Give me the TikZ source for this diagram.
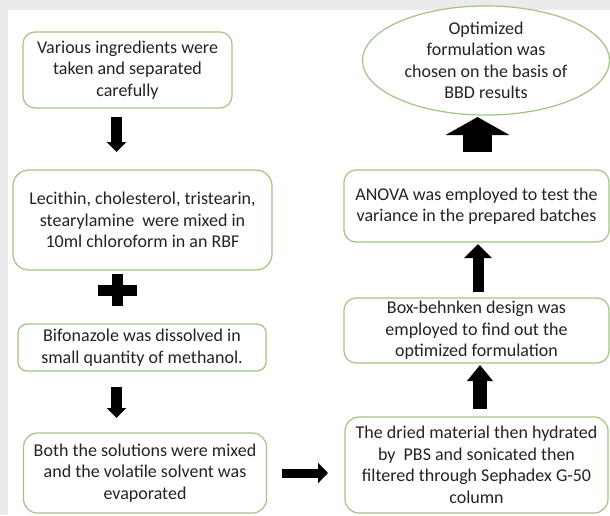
\documentclass[tikz,border=0pt]{standalone}
\usepackage{fontspec}
\setmainfont{Carlito}
\usetikzlibrary{shapes.geometric,arrows.meta}
\definecolor{boxgreen}{RGB}{160,198,130}
\definecolor{bggray}{RGB}{235,235,235}
\definecolor{txt}{RGB}{35,35,35}
\tikzset{
  box/.style={draw=boxgreen, line width=1.2pt, fill=white, rounded corners=#1, align=center, inner sep=0pt, text=txt, font=\fontsize{18}{21.5}\selectfont},
  box/.default=12pt,
  blockarrow/.style n args={3}{line width=#1, -{Triangle[length=#2,width=#3]}, draw=black},
}
\begin{document}
\begin{tikzpicture}[x=1pt,y=-1pt]
\useasboundingbox (0,0) rectangle (610,515);
\fill[bggray] (0,0) rectangle (610,515);
\fill[white] (8,10) rectangle (610,515);

\node[box=12pt, minimum width=209pt, minimum height=76pt] (b1) at (127.5,70)
  {Various ingredients were\\taken and separated\\carefully};
\node[box=16pt, minimum width=259pt, minimum height=100pt] (b2) at (142.5,220)
  {Lecithin, cholesterol, tristearin,\\stearylamine\ \ were mixed in\\10ml chloroform in an RBF};
\node[box=9pt, minimum width=248pt, minimum height=47pt] (b3) at (142,347.5)
  {Bifonazole was dissolved in\\small quantity of methanol.};
\node[box=14pt, minimum width=243pt, minimum height=80pt] (b4) at (145,473)
  {Both the solutions were mixed\\and the volatile solvent was\\evaporated};
\node[box=14pt, minimum width=263pt, minimum height=96pt] (b5) at (476.5,465)
  {The dried material then hydrated\\by\ \ PBS and sonicated then\\filtered through Sephadex G-50\\column};
\node[box=12pt, minimum width=265pt, minimum height=65pt] (b6) at (476.5,330.5)
  {Box-behnken design was\\employed to find out the\\optimized formulation};
\node[box=12pt, minimum width=265pt, minimum height=72pt] (b7) at (476.5,206)
  {ANOVA was employed to test the\\variance in the prepared batches};
\node[ellipse, draw=boxgreen, line width=1.2pt, fill=white, align=center, inner sep=0pt, text=txt,
  font=\fontsize{18}{21.5}\selectfont, minimum width=247pt, minimum height=95pt] (b8) at (486,60.5)
  {Optimized\\formulation was\\chosen on the basis of\\BBD results};

% connector end points
\coordinate (a1s) at (116.5,117);  \coordinate (a1e) at (116.5,152);
\coordinate (a2s) at (116.5,387);  \coordinate (a2e) at (116.5,418);
\coordinate (a3s) at (282,473);    \coordinate (a3e) at (328,473);
\coordinate (a4s) at (480,409);    \coordinate (a4e) at (480,365);
\coordinate (a5s) at (478,292);    \coordinate (a5e) at (478,244);
\coordinate (a6s) at (477.5,152);  \coordinate (a6e) at (477.5,117);

\draw[blockarrow={11pt}{10pt}{19pt}] (a1s) -- (a1e);
\draw[blockarrow={11pt}{10pt}{19pt}] (a2s) -- (a2e);
\draw[blockarrow={9pt}{10pt}{20pt}] (a3s) -- (a3e);
\draw[blockarrow={14pt}{16pt}{25pt}] (a4s) -- (a4e);
\draw[blockarrow={11pt}{14pt}{27pt}] (a5s) -- (a5e);
\draw[blockarrow={29pt}{18pt}{63pt}] (a6s) -- (a6e);

% plus sign between the two preparations
\fill[black] (98,284.5) rectangle (137,295.5);
\fill[black] (112,274) rectangle (123,306);
\end{tikzpicture}
\end{document}
